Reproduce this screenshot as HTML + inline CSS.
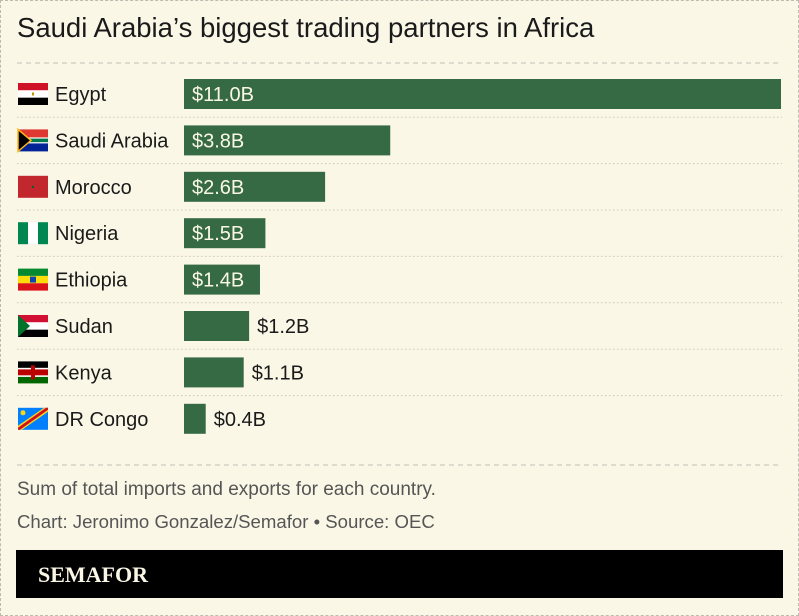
<!DOCTYPE html>
<html><head><meta charset="utf-8"><style>
html,body{margin:0;padding:0;}
body{width:799px;height:616px;background:#fbf7e7;position:relative;overflow:hidden;font-family:"Liberation Sans",sans-serif;}
.frame{position:absolute;left:0;top:0;width:797px;height:614px;border:1px dashed #bdbab0;}
</style></head><body>
<div class="frame"></div>
<svg id="chart" width="799" height="616" style="position:absolute;left:0;top:0">
<text x="17" y="37" font-family="Liberation Sans, sans-serif" font-size="27.5" fill="#1a1a1a">Saudi Arabia’s biggest trading partners in Africa</text>
<line x1="17" y1="63" x2="782" y2="63" stroke="#c2bfb5" stroke-dasharray="5,4"/>
<g id="rows"></g>
<line x1="17" y1="465" x2="782" y2="465" stroke="#c2bfb5" stroke-dasharray="5,4"/>
<text x="17" y="495" font-family="Liberation Sans, sans-serif" font-size="19" fill="#555">Sum of total imports and exports for each country.</text>
<text x="17" y="528" font-family="Liberation Sans, sans-serif" font-size="18.6" fill="#555">Chart: Jeronimo Gonzalez/Semafor • Source: OEC</text>
<rect x="16" y="550" width="767" height="48" fill="#000"/>
<text x="38" y="582" font-family="Liberation Serif, serif" font-weight="bold" font-size="22" fill="#fbf7e7">SEMAFOR</text>
</svg>
<script>
const countries=["Egypt","Saudi Arabia","Morocco","Nigeria","Ethiopia","Sudan","Kenya","DR Congo"];
const values=[11.0,3.8,2.6,1.5,1.4,1.2,1.1,0.4];
const valueLabels=["$11.0B","$3.8B","$2.6B","$1.5B","$1.4B","$1.2B","$1.1B","$0.4B"];
const NS="http://www.w3.org/2000/svg";
const x0=184,xMax=11.0,wMax=597;
function xs(v){return v/xMax*wMax;}
function yc(i){return 94+i*46.4;}
const g=document.getElementById('rows');
function mk(t,a,p){const e=document.createElementNS(NS,t);for(const k in a)e.setAttribute(k,a[k]);(p||g).appendChild(e);return e;}
const flags={
"Egypt":f=>{f.push(["#ce1126",0,0,30,7.33],["#fff",0,7.33,30,7.34],["#000",0,14.67,30,7.33],["#c09300",14,9.5,2,3]);},
"Saudi Arabia":f=>{f.push(["#de3831",0,0,30,11],["#002395",0,11,30,11],["#fff",0,8,30,6],["#007a4d",0,9.2,30,3.6]);},
"Morocco":f=>{f.push(["#c1272d",0,0,30,22],["#006233",14,10,2,2]);},
"Nigeria":f=>{f.push(["#008751",0,0,10,22],["#fff",10,0,10,22],["#008751",20,0,10,22]);},
"Ethiopia":f=>{f.push(["#078930",0,0,30,7.33],["#fcdd09",0,7.33,30,7.34],["#da121a",0,14.67,30,7.33],["#0f47af",12,8,6,6]);},
"Sudan":f=>{f.push(["#d21034",0,0,30,7.33],["#fff",0,7.33,30,7.34],["#000",0,14.67,30,7.33]);},
"Kenya":f=>{f.push(["#000",0,0,30,6.5],["#fff",0,6.5,30,1.5],["#bb0000",0,8,30,6],["#fff",0,14,30,1.5],["#006600",0,15.5,30,6.5],["#bb0000",13,4,4,14]);},
"DR Congo":f=>{f.push(["#007fff",0,0,30,22]);}
};
countries.forEach((c,i)=>{
  const cy=yc(i);
  if(i<countries.length-1){const l=mk('line',{x1:17,x2:782,y1:cy+23.2,y2:cy+23.2,stroke:'#c9c6bb','stroke-dasharray':'1.5,2.5'});
    
    }
  const fg=mk('g',{transform:`translate(18,${cy-11})`});
  
  
  const parts=[];flags[c](parts);
  parts.forEach(p=>mk('rect',{fill:p[0],x:p[1],y:p[2],width:p[3],height:p[4]},fg));
  if(c==="Sudan")mk('polygon',{points:"0,0 12,11 0,22",fill:"#007229"},fg);
  if(c==="Saudi Arabia")mk('polygon',{points:"0,0 13,11 0,22",fill:"#000",stroke:"#ffb612","stroke-width":1.5},fg);
  if(c==="DR Congo"){mk('polygon',{points:"0,18 26,0 30,0 30,4 4,22 0,22",fill:"#f7d618"},fg);mk('polygon',{points:"0,20 28,0 30,0 30,2 2,22 0,22",fill:"#ce1021"},fg);mk('circle',{cx:5,cy:5,r:2.5,fill:"#f7d618"},fg);}
  const t=mk('text',{x:55,y:cy+7,'font-size':20,fill:'#1a1a1a','font-family':'Liberation Sans, sans-serif'});
  t.textContent=c;
  
  
  const w=xs(values[i]);
  const r=mk('rect',{x:x0,y:cy-15,width:w,height:30,fill:'#356a45'});
  
  
  const inside=w>72;
  const vt=mk('text',{x:inside?x0+8:x0+w+8,y:cy+7,'font-size':20,fill:inside?'#fbf7e7':'#1a1a1a','font-family':'Liberation Sans, sans-serif'});
  vt.textContent=valueLabels[i];
  
  
});
</script>
</body></html>
